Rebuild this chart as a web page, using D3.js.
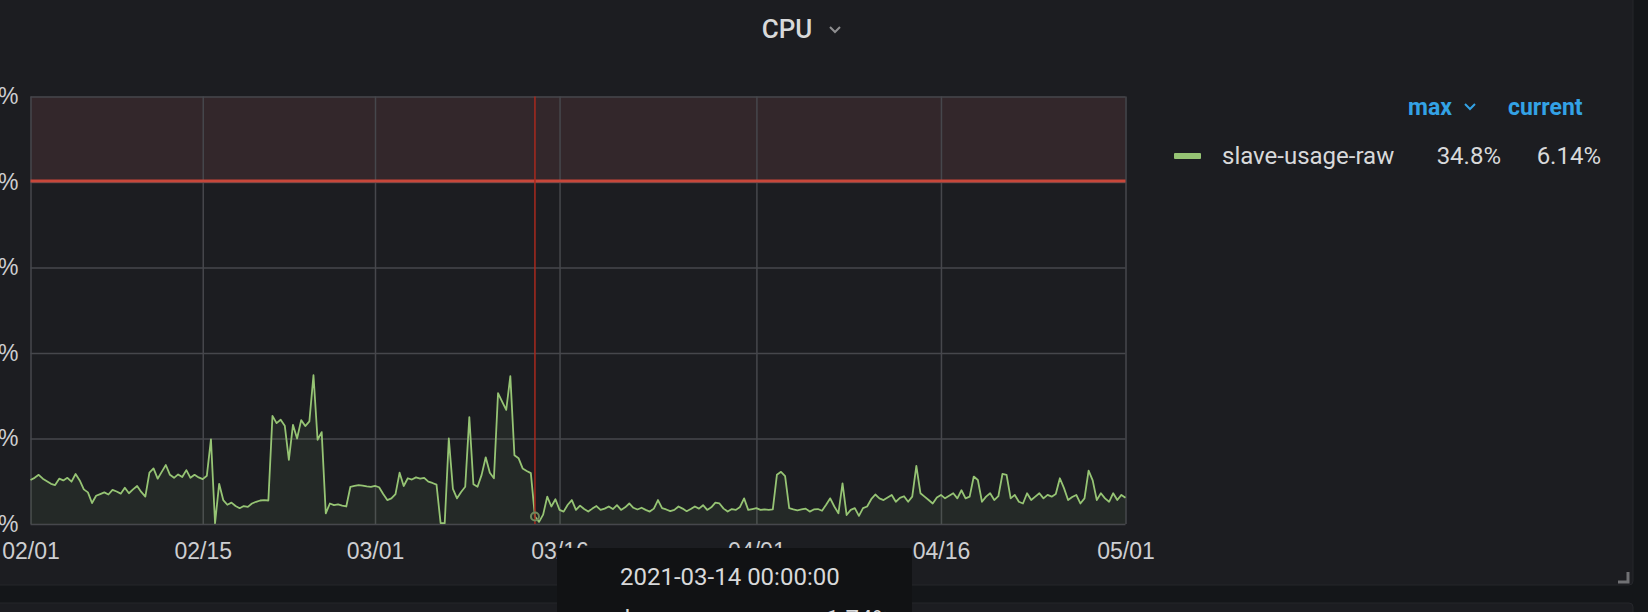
<!DOCTYPE html>
<html>
<head>
<meta charset="utf-8">
<style>
body { margin: 0; background: #141619; overflow: hidden; }
svg { display: block; font-family: Roboto, "Noto Sans", sans-serif; }
.grid line { stroke: #46474c; stroke-width: 1.5px; }
.grid .domain { display: none; }
.axis text { fill: #cdced1; font-size: 23px; }
</style>
</head>
<body>
<svg width="1648" height="612"></svg>
<script src="https://cdn.jsdelivr.net/npm/d3@7"></script>
<script>

// samples every 8 hours, starting 2021-02-01 00:00 UTC
var febUsage = [
  10.3, 10.8, 11.5,  10.6, 10.0, 9.4,  9.1, 10.6, 10.2,  10.8, 9.9, 11.7,
  10.2, 8.1, 7.4,  4.9, 6.6, 7.0,  7.4, 6.9, 8.0,  7.6, 7.1, 8.5,
  7.2, 8.1, 8.9,  7.5, 6.4, 12.0,  13.0, 10.6, 12.2,  13.8, 11.5, 10.8,
  11.6, 11.0, 12.6,  10.8, 11.5, 10.9,  10.5, 11.3, 19.8,  0.2, 9.4, 5.6,
  4.5, 5.0, 4.2,  3.7, 4.2, 4.0,  4.8, 5.2, 5.5,  5.6, 5.5, 25.3,
  23.6, 24.4, 23.0,  15.0, 23.2, 20.0,  24.3, 22.9, 24.0,  34.8, 19.7, 21.5,
  2.5, 4.8, 4.4,  4.6, 4.3, 4.1,  8.7, 8.9, 9.1,  9.0, 8.8, 8.7
];
var marUsage = [
  8.9, 8.6, 7.0,  5.6, 6.0, 7.0,  12.0, 8.9, 10.7,  10.4, 10.9, 10.6,
  10.8, 9.9, 9.6,  9.2, 0.2, 0.2,  20.0, 8.2, 6.0,  7.5, 8.7, 25.0,
  9.3, 8.7, 11.5,  15.6, 12.0, 10.7,  30.6, 28.6, 26.7,  34.6, 16.1, 15.4,
  13.0, 12.4, 11.9,  1.74, 0.5, 2.2,  6.4, 4.1, 5.8,  3.3, 2.9, 4.5,
  5.6, 3.3, 4.3,  3.5, 2.9, 3.6,  4.2, 3.3, 3.6,  4.1, 3.5, 4.4,
  3.3, 3.9, 4.8,  3.8, 3.4, 3.8,  3.3, 2.9, 3.6,  5.6, 3.7, 3.4,
  3.0, 3.3, 4.1,  3.6, 3.0, 3.5,  4.1, 3.6, 4.4,  3.3, 3.9, 5.0,
  4.8, 3.6, 2.9,  3.5, 3.3, 4.0,  6.0, 3.3, 3.5
];
var aprUsage = [
  3.7, 3.3, 3.4,  3.3, 3.4, 11.5,  12.2, 11.2, 3.7,  3.4, 3.2, 3.4,
  3.6, 2.9, 3.4,  3.5, 3.1, 4.5,  6.0, 4.1, 2.5,  9.5, 2.1, 3.3,
  3.7, 1.9, 3.7,  4.1, 5.8, 6.9,  6.0, 5.6, 6.2,  6.8, 5.2, 6.1,
  6.5, 5.2, 6.4,  13.6, 7.2, 6.4,  5.6, 4.8, 6.2,  6.8, 6.0, 6.6,
  7.2, 6.0, 7.9,  6.0, 6.4, 11.1,  10.3, 5.2, 6.4,  7.2, 5.6, 6.5,
  11.7, 11.5, 6.0,  6.8, 5.2, 4.8,  7.2, 5.6, 6.4,  7.2, 6.0, 6.8,
  6.4, 7.0, 10.7,  8.4, 5.6, 6.3,  6.8, 4.8, 6.0,  12.5, 10.2, 5.6,
  7.2, 6.0, 5.2,  7.2, 5.6, 6.8
];
var mayUsage = [6.14];

var seriesName = "slave-usage-raw";
var tickDates = ["2021-02-01", "2021-02-15", "2021-03-01", "2021-03-16", "2021-04-01", "2021-04-16", "2021-05-01"];
var yTicks = [0, 20, 40, 60, 80, 100];
var threshold = 80;
var hoverDate = "2021-03-14";

var parse = d3.utcParse("%Y-%m-%d");
var start = parse("2021-02-01"), end = parse("2021-05-01");
var step = 8 * 3600 * 1000;

var data = febUsage.concat(marUsage, aprUsage, mayUsage).map(function(v, i) {
  return { t: new Date(start.getTime() + i * step), v: v };
});

var svg = d3.select("svg");

// panels / page background
svg.append("rect").attr("x", -10).attr("y", -10).attr("width", 1643).attr("height", 595)
  .attr("rx", 4).attr("fill", "#1c1d21").attr("stroke", "#25262b");
svg.append("rect").attr("x", -10).attr("y", 603).attr("width", 1643).attr("height", 40)
  .attr("rx", 4).attr("fill", "#1c1d21").attr("stroke", "#25262b");

var plotL = 30.5, plotR = 1125.5, plotT = 96.5, plotB = 524;

var x = d3.scaleUtc().domain([start, end]).range([plotL, plotR]);
var y = d3.scaleLinear().domain([0, 100]).range([plotB, plotT]);

// threshold region
svg.append("rect")
  .attr("x", plotL).attr("y", y(100))
  .attr("width", plotR - plotL).attr("height", y(threshold) - y(100))
  .attr("fill", "#33272b");

// grid + axes
svg.append("g").attr("class", "grid axis")
  .attr("transform", "translate(" + plotL + ",0)")
  .call(d3.axisLeft(y).tickValues(yTicks).tickSize(-(plotR - plotL)).tickPadding(12)
    .tickFormat(function(d) { return d + "%"; }));

svg.append("g").attr("class", "grid axis")
  .attr("transform", "translate(0," + plotB + ")")
  .call(d3.axisBottom(x).tickValues(tickDates.map(parse)).tickSize(-(plotB - plotT)).tickPadding(19)
    .tickFormat(d3.utcFormat("%m/%d")));

// threshold line
svg.append("line")
  .attr("x1", plotL).attr("x2", plotR)
  .attr("y1", y(threshold) - 1).attr("y2", y(threshold) - 1)
  .attr("stroke", "#c8473a").attr("stroke-width", 3);

var area = d3.area()
  .x(function(d) { return x(d.t); })
  .y0(y(0))
  .y1(function(d) { return y(d.v); });

var line = d3.line()
  .x(function(d) { return x(d.t); })
  .y(function(d) { return y(d.v); });

svg.append("path").datum(data).attr("d", area)
  .attr("fill", "#91c06d").attr("fill-opacity", 0.08);
svg.append("path").datum(data).attr("d", line)
  .attr("fill", "none").attr("stroke", "#96c474").attr("stroke-width", 1.8)
  .attr("stroke-linejoin", "round");

// hover cursor
var hd = parse(hoverDate);
var hi = d3.bisector(function(d) { return d.t; }).left(data, hd);
var hp = data[hi];
svg.append("line")
  .attr("x1", x(hd)).attr("x2", x(hd)).attr("y1", plotT).attr("y2", plotB)
  .attr("stroke", "#a8291e").attr("stroke-width", 1.5);
svg.append("circle").attr("cx", x(hp.t)).attr("cy", y(hp.v)).attr("r", 4)
  .attr("fill", "none").attr("stroke", "#6f8a5c").attr("stroke-width", 2);

// title
svg.append("text").attr("x", 787).attr("y", 29).attr("dy", "0.35em")
  .attr("text-anchor", "middle").attr("fill", "#d8d9da")
  .style("font-size", "26px").style("font-weight", 500).text("CPU");
svg.append("path").attr("d", "M830,27 L835,32 L840,27")
  .attr("fill", "none").attr("stroke", "#8e8e90").attr("stroke-width", 2);

// legend
var fmt = d3.format(".3~r");
var maxV = d3.max(data, function(d) { return d.v; });
var curV = data[data.length - 1].v;

svg.append("text").attr("x", 1408).attr("y", 107).attr("dy", "0.35em")
  .attr("fill", "#33a2e5").style("font-size", "23px").style("font-weight", 700).text("max");
svg.append("path").attr("d", "M1465,104 L1470,109 L1475,104")
  .attr("fill", "none").attr("stroke", "#33a2e5").attr("stroke-width", 2);
svg.append("text").attr("x", 1508).attr("y", 107).attr("dy", "0.35em")
  .attr("fill", "#33a2e5").style("font-size", "23px").style("font-weight", 700).text("current");

svg.append("rect").attr("x", 1174).attr("y", 153).attr("width", 27).attr("height", 6)
  .attr("rx", 1).attr("fill", "#96c474");
svg.append("text").attr("x", 1222).attr("y", 155.5).attr("dy", "0.35em")
  .attr("fill", "#d8d9da").style("font-size", "24px").text(seriesName);
svg.append("text").attr("x", 1501).attr("y", 155.5).attr("dy", "0.35em").attr("text-anchor", "end")
  .attr("fill", "#d8d9da").style("font-size", "24px").text(fmt(maxV) + "%");
svg.append("text").attr("x", 1601).attr("y", 155.5).attr("dy", "0.35em").attr("text-anchor", "end")
  .attr("fill", "#d8d9da").style("font-size", "24px").text(fmt(curV) + "%");

// tooltip
svg.append("rect").attr("x", 557).attr("y", 548).attr("width", 355).attr("height", 90)
  .attr("rx", 3).attr("fill", "#111214");
svg.append("text").attr("x", 620).attr("y", 577).attr("dy", "0.35em")
  .attr("fill", "#d8d9da").style("font-size", "24px")
  .text(d3.utcFormat("%Y-%m-%d %H:%M:%S")(hd));
svg.append("text").attr("x", 612).attr("y", 627)
  .attr("fill", "#d8d9da").style("font-size", "24px").text(seriesName + ":");
svg.append("text").attr("x", 890).attr("y", 627).attr("text-anchor", "end")
  .attr("fill", "#d8d9da").style("font-size", "24px").text(fmt(hp.v) + "%");

// resize handle
svg.append("path").attr("d", "M1628,572 L1628,582 L1618,582")
  .attr("fill", "none").attr("stroke", "#707174").attr("stroke-width", 3);

</script>
</body>
</html>
